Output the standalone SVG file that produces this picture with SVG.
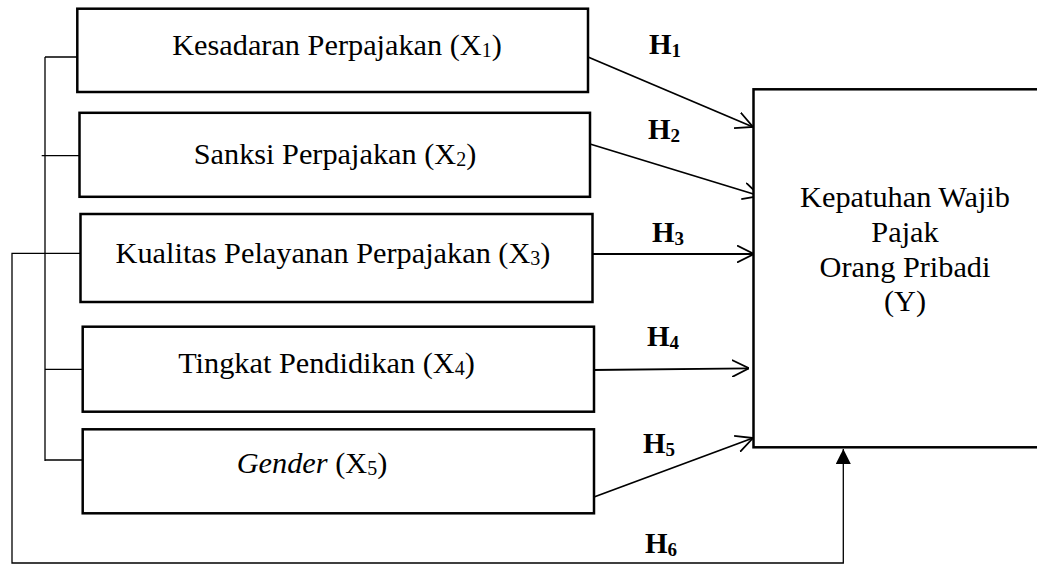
<svg xmlns="http://www.w3.org/2000/svg" width="1037" height="565" viewBox="0 0 1037 565">
<style>
.box{fill:#fff;stroke:#000;stroke-width:2.5}
.t{font-family:"Liberation Serif","Times New Roman",serif;font-size:30.3px;fill:#000;text-anchor:middle}
.h{font-family:"Liberation Serif","Times New Roman",serif;font-size:29px;font-weight:bold;fill:#000}
.thin{fill:none;stroke:#000;stroke-width:1.3}
.arr{fill:none;stroke:#000;stroke-width:1.8;marker-end:url(#open)}
</style>
<defs>
<marker id="open" viewBox="0 0 17 18" refX="17" refY="9" markerWidth="17" markerHeight="18" markerUnits="userSpaceOnUse" orient="auto">
<path d="M0,0.5 L17,9 L0,17.5" fill="none" stroke="#000" stroke-width="1.8"/>
</marker>
<marker id="solid" viewBox="0 0 15 15" refX="15" refY="7.5" markerWidth="15" markerHeight="15" markerUnits="userSpaceOnUse" orient="auto">
<path d="M0,0 L15,7.5 L0,15 Z" fill="#000"/>
</marker>
</defs>
<rect width="1037" height="565" fill="#fff"/>
<g id="connectors">
<path class="thin" d="M45,57 V461 M45,57 H77 M41.7,155.7 H79 M45,369.3 H82 M45,460 H82"/>
<path class="thin" d="M80,253.3 H12 V563 H843.3 V449" marker-end="url(#solid)"/>
<line class="arr" x1="588" y1="57" x2="753" y2="127"/>
<line class="arr" x1="590" y1="144" x2="760" y2="196"/>
<line class="arr" x1="589" y1="254" x2="754" y2="254"/>
<line class="arr" x1="592" y1="370" x2="749" y2="368.3"/>
<line class="arr" x1="594" y1="497" x2="753" y2="438"/>
</g>
<g id="x1">
<rect class="box" x="77.3" y="8.7" width="510.7" height="83.3"/>
<text class="t" x="337" y="55">Kesadaran Perpajakan (X<tspan font-size="20" dy="2">1</tspan><tspan dy="-2">)</tspan></text>
</g>
<g id="x2">
<rect class="box" x="79.5" y="112.8" width="510.5" height="84"/>
<text class="t" x="335" y="164">Sanksi Perpajakan (X<tspan font-size="20" dy="2">2</tspan><tspan dy="-2">)</tspan></text>
</g>
<g id="x3">
<rect class="box" x="80.5" y="214" width="512" height="88"/>
<text class="t" x="333" y="263">Kualitas Pelayanan Perpajakan (X<tspan font-size="20" dy="2">3</tspan><tspan dy="-2">)</tspan></text>
</g>
<g id="x4">
<rect class="box" x="82.7" y="326.7" width="511.3" height="85"/>
<text class="t" x="326.5" y="373">Tingkat Pendidikan (X<tspan font-size="20" dy="2">4</tspan><tspan dy="-2">)</tspan></text>
</g>
<g id="x5">
<rect class="box" x="82.7" y="429.3" width="511.3" height="84"/>
<text class="t" x="312" y="472.7"><tspan font-style="italic">Gender</tspan> (X<tspan font-size="20" dy="2">5</tspan><tspan dy="-2">)</tspan></text>
</g>
<g id="y">
<rect class="box" x="753.5" y="89.3" width="300" height="358"/>
<text class="t" x="905" y="206.7">Kepatuhan Wajib</text>
<text class="t" x="905" y="241.7">Pajak</text>
<text class="t" x="905" y="276.7">Orang Pribadi</text>
<text class="t" x="905" y="311">(Y)</text>
</g>
<g id="labels">
<text class="h" x="649" y="54">H<tspan font-size="19" dy="3">1</tspan></text>
<text class="h" x="648" y="139">H<tspan font-size="19" dy="3">2</tspan></text>
<text class="h" x="652" y="241.7">H<tspan font-size="19" dy="3">3</tspan></text>
<text class="h" x="647" y="346">H<tspan font-size="19" dy="3">4</tspan></text>
<text class="h" x="643" y="452.7">H<tspan font-size="19" dy="3">5</tspan></text>
<text class="h" x="645" y="552.7">H<tspan font-size="19" dy="3">6</tspan></text>
</g>
</svg>
